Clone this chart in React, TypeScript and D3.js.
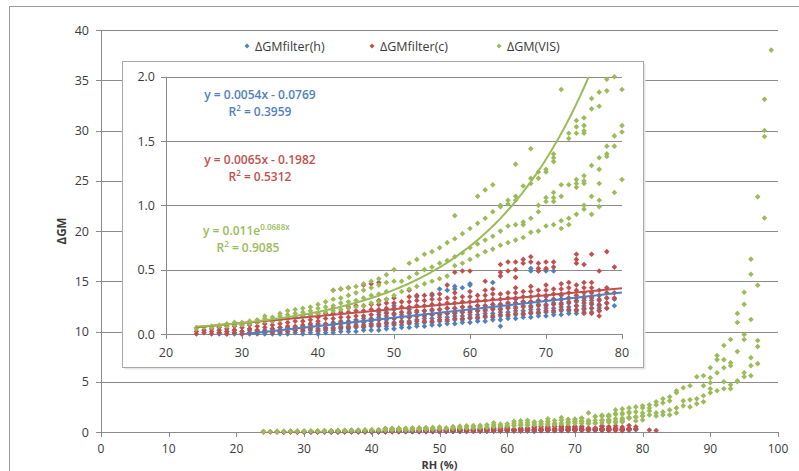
import React, { useEffect, useRef } from 'react';
import * as d3 from 'd3';

// [RH, values at that RH]
type Stack = [number, number[]];

const filterH: Stack[] = [
  [27, [0, 0.01]], [28, [0, 0.02]], [29, [0, 0.01, 0.03]], [30, [0, 0.02]],
  [31, [0, 0.01, 0.03]], [32, [0, 0.02, 0.03]], [33, [0, 0.01, 0.03]], [34, [0, 0.02, 0.04]],
  [35, [0, 0.01, 0.03, 0.05]], [36, [0, 0.02, 0.04, 0.05]], [37, [0.01, 0.03, 0.05]],
  [38, [0, 0.02, 0.04, 0.06]], [39, [0.01, 0.03, 0.05, 0.07]], [40, [0, 0.02, 0.04, 0.06, 0.08]],
  [41, [0.01, 0.03, 0.05, 0.07]], [42, [0.01, 0.03, 0.05, 0.07, 0.09]],
  [43, [0.02, 0.04, 0.06, 0.08, 0.1]], [44, [0.02, 0.04, 0.06, 0.08, 0.1]],
  [45, [0.02, 0.05, 0.07, 0.09, 0.11]], [46, [0.03, 0.05, 0.07, 0.09, 0.12]],
  [47, [0.03, 0.06, 0.08, 0.1, 0.12]], [48, [0.03, 0.06, 0.08, 0.11, 0.13, 0.17]],
  [49, [0.04, 0.06, 0.09, 0.11, 0.14, 0.17]], [50, [0.04, 0.07, 0.09, 0.12, 0.15, 0.19, 0.22]],
  [51, [0.05, 0.07, 0.1, 0.13, 0.15]], [52, [0.05, 0.08, 0.1, 0.13, 0.16, 0.19]],
  [53, [0.06, 0.08, 0.11, 0.14, 0.17, 0.29]], [54, [0.06, 0.09, 0.12, 0.15, 0.18]],
  [55, [0.07, 0.09, 0.12, 0.15, 0.18, 0.3]], [56, [0.07, 0.1, 0.13, 0.16, 0.19, 0.35]],
  [57, [0.08, 0.1, 0.13, 0.16, 0.2, 0.34]], [58, [0.08, 0.11, 0.14, 0.17, 0.2, 0.35, 0.37]],
  [59, [0.09, 0.11, 0.14, 0.17, 0.21, 0.36]], [60, [0.09, 0.12, 0.15, 0.18, 0.21, 0.38, 0.39]],
  [61, [0.1, 0.12, 0.15, 0.18, 0.22]], [62, [0.1, 0.13, 0.16, 0.19, 0.22]],
  [63, [0.11, 0.13, 0.16, 0.2, 0.23, 0.4]], [64, [0.06, 0.11, 0.14, 0.17, 0.2, 0.23]],
  [65, [0.12, 0.14, 0.17, 0.21, 0.24]], [66, [0.12, 0.15, 0.18, 0.21, 0.24, 0.27]],
  [67, [0.13, 0.15, 0.18, 0.22, 0.25]], [68, [0.13, 0.16, 0.19, 0.22, 0.25, 0.49, 0.51]],
  [69, [0.14, 0.16, 0.19, 0.23, 0.26, 0.49]], [70, [0.14, 0.17, 0.2, 0.23, 0.26, 0.29, 0.49, 0.5]],
  [71, [0.15, 0.17, 0.2, 0.24, 0.27, 0.49]], [72, [0.15, 0.18, 0.21, 0.24, 0.27, 0.3]],
  [73, [0.16, 0.18, 0.21, 0.25, 0.28]], [74, [0.16, 0.19, 0.22, 0.25, 0.28]],
  [75, [0.17, 0.19, 0.22, 0.26, 0.29]], [76, [0.17, 0.2, 0.23, 0.26, 0.29]],
  [77, [0.18, 0.2, 0.23, 0.27]], [78, [0.2, 0.24, 0.28]], [79, [0.22, 0.27]],
];

const filterC: Stack[] = [
  [24, [0, 0.02]], [25, [0.01, 0.03]], [26, [0, 0.02, 0.04]], [27, [0.01, 0.03, 0.05]],
  [28, [0, 0.02, 0.04, 0.06]], [29, [0.01, 0.03, 0.06]], [30, [0, 0.02, 0.05, 0.07]],
  [31, [0.01, 0.04, 0.07]], [32, [0.01, 0.03, 0.06, 0.09]], [33, [0.02, 0.05, 0.08]],
  [34, [0.01, 0.04, 0.07, 0.1]], [35, [0.02, 0.05, 0.08, 0.11]], [36, [0.02, 0.06, 0.09, 0.12]],
  [37, [0.03, 0.06, 0.1, 0.13]], [38, [0.03, 0.07, 0.1, 0.14]], [39, [0.04, 0.08, 0.11, 0.15]],
  [40, [0.03, 0.07, 0.1, 0.13, 0.16]], [41, [0.04, 0.08, 0.12, 0.16]],
  [42, [0.04, 0.08, 0.12, 0.16, 0.2, 0.34]], [43, [0.05, 0.09, 0.13, 0.17, 0.35]],
  [44, [0.05, 0.09, 0.13, 0.17, 0.21, 0.36]], [45, [0.06, 0.1, 0.14, 0.18, 0.22]],
  [46, [0.06, 0.1, 0.14, 0.18, 0.22, 0.38]], [47, [0.07, 0.11, 0.15, 0.19, 0.23, 0.39]],
  [48, [0.07, 0.11, 0.15, 0.19, 0.23, 0.26, 0.4]], [49, [0.08, 0.12, 0.16, 0.2, 0.24, 0.27]],
  [50, [0.08, 0.12, 0.16, 0.2, 0.24, 0.28]], [51, [0.09, 0.13, 0.17, 0.21, 0.25]],
  [52, [0.09, 0.13, 0.17, 0.21, 0.25, 0.29, 0.34]], [53, [0.1, 0.14, 0.18, 0.22, 0.26, 0.3]],
  [54, [0.1, 0.14, 0.18, 0.22, 0.26, 0.3]], [55, [0.1, 0.15, 0.19, 0.23, 0.27, 0.31]],
  [56, [0.11, 0.15, 0.19, 0.23, 0.27, 0.31]], [57, [0.11, 0.16, 0.2, 0.24, 0.28, 0.38]],
  [58, [0.12, 0.16, 0.2, 0.24, 0.28, 0.32, 0.48]], [59, [0.12, 0.17, 0.21, 0.25, 0.29, 0.49]],
  [60, [0.13, 0.17, 0.21, 0.25, 0.29, 0.33, 0.49]], [61, [0.13, 0.18, 0.22, 0.26, 0.3]],
  [62, [0.14, 0.18, 0.22, 0.26, 0.3, 0.34, 0.41]], [63, [0.14, 0.19, 0.23, 0.27, 0.31, 0.35]],
  [64, [0.15, 0.19, 0.23, 0.27, 0.31, 0.45, 0.48, 0.54]], [65, [0.15, 0.2, 0.24, 0.28, 0.32, 0.49, 0.56]],
  [66, [0.16, 0.2, 0.24, 0.28, 0.32, 0.36, 0.44, 0.5, 0.56]], [67, [0.16, 0.21, 0.25, 0.29, 0.33, 0.55, 0.58]],
  [68, [0.17, 0.21, 0.25, 0.29, 0.33, 0.37, 0.56, 0.6]], [69, [0.17, 0.22, 0.26, 0.3, 0.34, 0.49, 0.51, 0.55]],
  [70, [0.18, 0.22, 0.26, 0.3, 0.34, 0.38, 0.51, 0.56]], [71, [0.18, 0.23, 0.27, 0.31, 0.35, 0.52, 0.56]],
  [72, [0.19, 0.23, 0.27, 0.31, 0.35, 0.39]], [73, [0.19, 0.24, 0.28, 0.32, 0.36, 0.4]],
  [74, [0.18, 0.22, 0.26, 0.3, 0.34, 0.38, 0.55, 0.58, 0.62]], [75, [0.16, 0.2, 0.24, 0.28, 0.32, 0.36, 0.4, 0.54]],
  [76, [0.16, 0.2, 0.24, 0.28, 0.32, 0.36, 0.4, 0.62]], [77, [0.14, 0.18, 0.22, 0.26, 0.3, 0.34, 0.49]],
  [78, [0.2, 0.24, 0.28, 0.32, 0.36, 0.64]], [79, [0.28, 0.32, 0.52]], [81, [0.2]], [82, [0.15]],
];

const vis: Stack[] = [
  [24, [0.04, 0.05]], [25, [0.05]], [26, [0.05, 0.06]], [27, [0.06, 0.07]], [28, [0.06, 0.08]],
  [29, [0.07, 0.09]], [30, [0.07, 0.09]], [31, [0.08, 0.1]], [32, [0.09, 0.11]],
  [33, [0.1, 0.12, 0.14]], [34, [0.1, 0.13]], [35, [0.11, 0.14, 0.16]], [36, [0.12, 0.15, 0.18]],
  [37, [0.13, 0.16, 0.19]], [38, [0.14, 0.17, 0.2]], [39, [0.15, 0.18, 0.21]], [40, [0.16, 0.2, 0.23]],
  [41, [0.17, 0.21, 0.25]], [42, [0.18, 0.22, 0.27, 0.34]], [43, [0.19, 0.24, 0.28, 0.35]],
  [44, [0.2, 0.25, 0.3, 0.36]], [45, [0.21, 0.26, 0.32, 0.37]], [46, [0.22, 0.28, 0.34, 0.39]],
  [47, [0.24, 0.3, 0.36, 0.41]], [48, [0.25, 0.31, 0.38, 0.43]], [49, [0.27, 0.33, 0.4, 0.46]],
  [50, [0.3, 0.41, 0.5]], [51, [0.33, 0.41]], [52, [0.35, 0.44, 0.55]], [53, [0.37, 0.47, 0.58]],
  [54, [0.39, 0.5, 0.62]], [55, [0.41, 0.52, 0.64]], [56, [0.43, 0.55, 0.67]], [57, [0.45, 0.57, 0.71]],
  [58, [0.53, 0.6, 0.74, 0.92]], [59, [0.55, 0.63, 0.78]], [60, [0.58, 0.67, 0.82]],
  [61, [0.61, 0.7, 0.86, 1.07]], [62, [0.64, 0.73, 0.9, 1.12]], [63, [0.66, 0.76, 0.95, 1.16]],
  [64, [0.69, 0.8, 0.99, 1.0]], [65, [0.71, 0.84, 1.01, 1.04]], [66, [0.73, 0.85, 1.04, 1.07, 1.32]],
  [67, [0.75, 0.85, 0.87, 1.15]], [68, [0.79, 0.9, 1.17, 1.21, 1.44]], [69, [0.8, 0.95, 1.0, 1.21, 1.26]],
  [70, [0.84, 1.03, 1.06, 1.26, 1.28]], [71, [0.85, 1.03, 1.06, 1.1, 1.34, 1.37, 1.4]],
  [72, [0.82, 0.88, 1.07, 1.16, 1.9]], [73, [0.85, 0.9, 1.16, 1.52, 1.56]],
  [74, [0.93, 1.14, 1.17, 1.2, 1.56, 1.61, 1.66]], [75, [0.97, 1.0, 1.17, 1.19, 1.23, 1.56, 1.58, 1.62, 1.68]],
  [76, [0.93, 1.07, 1.31, 1.75, 1.83, 2.2]], [77, [0.99, 1.04, 1.17, 1.28, 1.37, 1.77, 1.88, 2.3]],
  [78, [1.38, 1.4, 1.46, 1.89, 1.98, 2.4]], [79, [1.1, 1.46, 1.54, 2.0, 2.5]],
  [80, [1.2, 1.57, 1.62, 1.9, 2.4, 2.6]], [81, [1.7, 2.1, 2.4, 2.7]], [82, [1.6, 1.9, 2.7, 3.0]],
  [83, [1.7, 2.0, 2.9, 3.3]], [84, [1.7, 2.2, 3.1, 3.5]], [85, [1.9, 2.4, 3.9, 4.1]],
  [86, [2.6, 3.1, 4.4]], [87, [2.5, 3.2, 4.6]], [88, [2.8, 3.3, 5.5]], [89, [3.0, 3.6, 4.6, 5.6]],
  [90, [3.9, 4.3, 4.9, 5.4, 6.4]], [91, [4.1, 5.9, 7.2, 7.6]], [92, [4.3, 5.0, 6.4, 7.2, 8.6]],
  [93, [4.3, 4.7, 6.6, 6.9, 9.2]], [94, [5.0, 5.1, 8.0, 10.9, 11.8]],
  [95, [5.5, 5.9, 9.2, 9.7, 12.7, 13.9]], [96, [5.6, 6.6, 7.4, 11.2, 15.7, 17.2]],
  [97, [6.8, 8.5, 9.1, 14.6, 23.4]], [98, [21.3, 29.4, 30.0, 33.1]], [99, [38.0]],
];

const seriesNames = ['ΔGMfilter(h)', 'ΔGMfilter(c)', 'ΔGM(VIS)'];
const seriesColors = ['#4F81BD', '#C0504D', '#9BBB59'];

const mainXTicks = [0, 10, 20, 30, 40, 50, 60, 70, 80, 90, 100];
const mainYTicks = [0, 5, 10, 15, 20, 25, 30, 35, 40];
const insetXTicks = [20, 30, 40, 50, 60, 70, 80];
const insetYTicks = [0, 0.5, 1.0, 1.5, 2.0];

// trendlines as they are drawn in the inset
const blueFit = { slope: 0.0065, icpt: -0.1982, from: 27, to: 80 };
const redFit = { slope: 0.0054, icpt: -0.0769, from: 24, to: 80 };
const greenFit = { a: 0.011, b: 0.0688, from: 24, to: 80 };

const FONT = "'Open Sans', sans-serif";
const GRID = '#8a8a8a';
const TXT = '#3a3a3a';

const flat = (s: Stack[]) => s.flatMap(([x, vs]) => vs.map(v => [x, v] as [number, number]));
const diamond = (r: number) => `M0,${-r}L${r},0L0,${r}L${-r},0Z`;

const App: React.FC = () => {
  const svgRef = useRef<SVGSVGElement>(null);

  useEffect(() => {
    if (!svgRef.current) return;
    const svg = d3.select(svgRef.current);
    svg.selectAll('*').remove();

    const series = [filterH, filterC, vis].map(flat);

    svg.append('rect').attr('width', 799).attr('height', 471).attr('fill', '#fff');
    svg.append('rect').attr('x', 9.5).attr('y', 6.5).attr('width', 900).attr('height', 600)
      .attr('fill', 'none').attr('stroke', '#9a9a9a');

    // ---- main chart
    const x = d3.scaleLinear().domain([0, 100]).range([101, 778]);
    const y = d3.scaleLinear().domain([0, 40]).range([432, 30]);
    const main = svg.append('g');

    main.selectAll('line.grid').data(mainYTicks.filter(t => t > 0)).join('line')
      .attr('x1', 96).attr('x2', 778)
      .attr('y1', d => Math.round(y(d)) + 0.5).attr('y2', d => Math.round(y(d)) + 0.5)
      .attr('stroke', GRID);
    main.append('line').attr('x1', 101.5).attr('x2', 101.5).attr('y1', y(40)).attr('y2', y(0))
      .attr('stroke', GRID);
    main.append('line').attr('x1', 96).attr('x2', 778).attr('y1', Math.round(y(0)) + 0.5).attr('y2', Math.round(y(0)) + 0.5)
      .attr('stroke', GRID);
    main.selectAll('line.xt').data(mainXTicks).join('line')
      .attr('x1', d => Math.round(x(d)) + 0.5).attr('x2', d => Math.round(x(d)) + 0.5)
      .attr('y1', Math.round(y(0))).attr('y2', Math.round(y(0)) + 5).attr('stroke', GRID);

    main.selectAll('text.yl').data(mainYTicks).join('text')
      .attr('x', 89).attr('y', d => y(d) + 4.5).attr('text-anchor', 'end')
      .style('font', `12.5px ${FONT}`).attr('fill', TXT).text(d => d);
    main.selectAll('text.xl').data(mainXTicks).join('text')
      .attr('x', d => x(d)).attr('y', 452.5).attr('text-anchor', 'middle')
      .style('font', `12px ${FONT}`).attr('fill', TXT).text(d => d);

    main.append('text').attr('x', x(50)).attr('y', 468.5).attr('text-anchor', 'middle')
      .style('font', `bold 11px ${FONT}`).attr('fill', TXT).text('RH (%)');
    main.append('text').attr('transform', `translate(66,${y(20)}) rotate(-90)`).attr('text-anchor', 'middle')
      .style('font', `bold 11.5px ${FONT}`).attr('fill', TXT).text('ΔGM');

    series.forEach((pts, i) => {
      main.append('g').selectAll('path').data(pts).join('path')
        .attr('d', diamond(2.8))
        .attr('transform', d => `translate(${x(d[0])},${y(d[1])})`)
        .attr('fill', seriesColors[i]);
    });

    // legend
    const legX = [247, 372, 499];
    seriesNames.forEach((name, i) => {
      main.append('path').attr('d', diamond(2.5)).attr('transform', `translate(${legX[i]},46)`)
        .attr('fill', seriesColors[i]);
      main.append('text').attr('x', legX[i] + 8).attr('y', 50.5)
        .style('font', `12.5px ${FONT}`).attr('fill', TXT).text(name);
    });

    // ---- inset
    const inset = svg.append('g');
    inset.append('rect').attr('x', 124.5).attr('y', 63.5).attr('width', 521).attr('height', 306)
      .attr('fill', '#e6e6e6');
    inset.append('rect').attr('x', 122.5).attr('y', 61.5).attr('width', 521).attr('height', 306)
      .attr('fill', '#fff').attr('stroke', '#a8a8a8');

    const ix = d3.scaleLinear().domain([20, 80]).range([166, 622]);
    const iy = d3.scaleLinear().domain([0, 2]).range([334, 76.7]);

    inset.selectAll('line.grid').data(insetYTicks.filter(t => t > 0)).join('line')
      .attr('x1', 161).attr('x2', 622)
      .attr('y1', d => Math.round(iy(d)) + 0.5).attr('y2', d => Math.round(iy(d)) + 0.5)
      .attr('stroke', GRID);
    inset.append('line').attr('x1', 166.5).attr('x2', 166.5).attr('y1', iy(2)).attr('y2', iy(0))
      .attr('stroke', GRID);
    inset.append('line').attr('x1', 161).attr('x2', 622).attr('y1', Math.round(iy(0)) + 0.5).attr('y2', Math.round(iy(0)) + 0.5)
      .attr('stroke', GRID);
    inset.selectAll('line.xt').data(insetXTicks).join('line')
      .attr('x1', d => Math.round(ix(d)) + 0.5).attr('x2', d => Math.round(ix(d)) + 0.5)
      .attr('y1', Math.round(iy(0))).attr('y2', Math.round(iy(0)) + 5).attr('stroke', GRID);

    inset.selectAll('text.yl').data(insetYTicks).join('text')
      .attr('x', 155).attr('y', d => iy(d) + 4.5).attr('text-anchor', 'end')
      .style('font', `12.5px ${FONT}`).attr('fill', TXT).text(d => d.toFixed(1));
    inset.selectAll('text.xl').data(insetXTicks).join('text')
      .attr('x', d => ix(d)).attr('y', 357).attr('text-anchor', 'middle')
      .style('font', `12.5px ${FONT}`).attr('fill', TXT).text(d => d);

    // markers: keep those inside the inset's axes
    const pointsG = inset.append('g');
    series.forEach((pts, i) => {
      pointsG.append('g').selectAll('path')
        .data(pts.filter(d => d[0] >= 20 && d[0] <= 80 && d[1] <= 2.0)).join('path')
        .attr('d', diamond(2.8))
        .attr('transform', d => `translate(${ix(d[0])},${iy(d[1])})`)
        .attr('fill', seriesColors[i]);
    });

    // trendlines: clipped to the plot area
    svg.append('defs').append('clipPath').attr('id', 'insetClip')
      .append('rect').attr('x', 166).attr('y', iy(2)).attr('width', 456).attr('height', iy(0) - iy(2));
    const plot = inset.append('g').attr('clip-path', 'url(#insetClip)');

    const line = d3.line<number[]>().x(d => ix(d[0])).y(d => iy(d[1]));
    const linFit = (f: typeof blueFit) => [f.from, f.to].map(r => [r, f.slope * r + f.icpt]);
    const expFit = d3.range(greenFit.from, greenFit.to + 0.01, 0.25)
      .map(r => [r, greenFit.a * Math.exp(greenFit.b * r)]);

    [[linFit(blueFit), seriesColors[0]], [linFit(redFit), seriesColors[1]], [expFit, seriesColors[2]]]
      .forEach(([pts, c]: any) => {
        plot.append('path').attr('d', line(pts)).attr('fill', 'none')
          .attr('stroke', c).attr('stroke-width', 2);
      });

    // trendline labels
    const lab = inset.append('g').style('font', `600 12px ${FONT}`);
    const eqLines = [
      { t: 'y = 0.0054x - 0.0769', r: '0.3959', c: seriesColors[0], y1: 99, y2: 116 },
      { t: 'y = 0.0065x - 0.1982', r: '0.5312', c: seriesColors[1], y1: 164, y2: 181 },
    ];
    eqLines.forEach(e => {
      lab.append('text').attr('x', 260).attr('y', e.y1).attr('text-anchor', 'middle').attr('fill', e.c).text(e.t);
      const r2 = lab.append('text').attr('x', 260).attr('y', e.y2).attr('text-anchor', 'middle').attr('fill', e.c);
      r2.append('tspan').text('R');
      r2.append('tspan').attr('dy', -5).style('font-size', '8px').text('2');
      r2.append('tspan').attr('dy', 5).text(' = ' + e.r);
    });
    const g1 = lab.append('text').attr('x', 203).attr('y', 234.5).attr('fill', seriesColors[2]);
    g1.append('tspan').text('y = 0.011e');
    g1.append('tspan').attr('dy', -5).style('font-size', '8px').text('0.0688x');
    const g2 = lab.append('text').attr('x', 248).attr('y', 251.5).attr('text-anchor', 'middle').attr('fill', seriesColors[2]);
    g2.append('tspan').text('R');
    g2.append('tspan').attr('dy', -5).style('font-size', '8px').text('2');
    g2.append('tspan').attr('dy', 5).text(' = 0.9085');
  }, []);

  return (
    <div style={{ position: 'absolute', left: 0, top: 0, width: 799, height: 471 }}>
      <svg ref={svgRef} width={799} height={471} style={{ display: 'block' }} />
    </div>
  );
};

export default App;
